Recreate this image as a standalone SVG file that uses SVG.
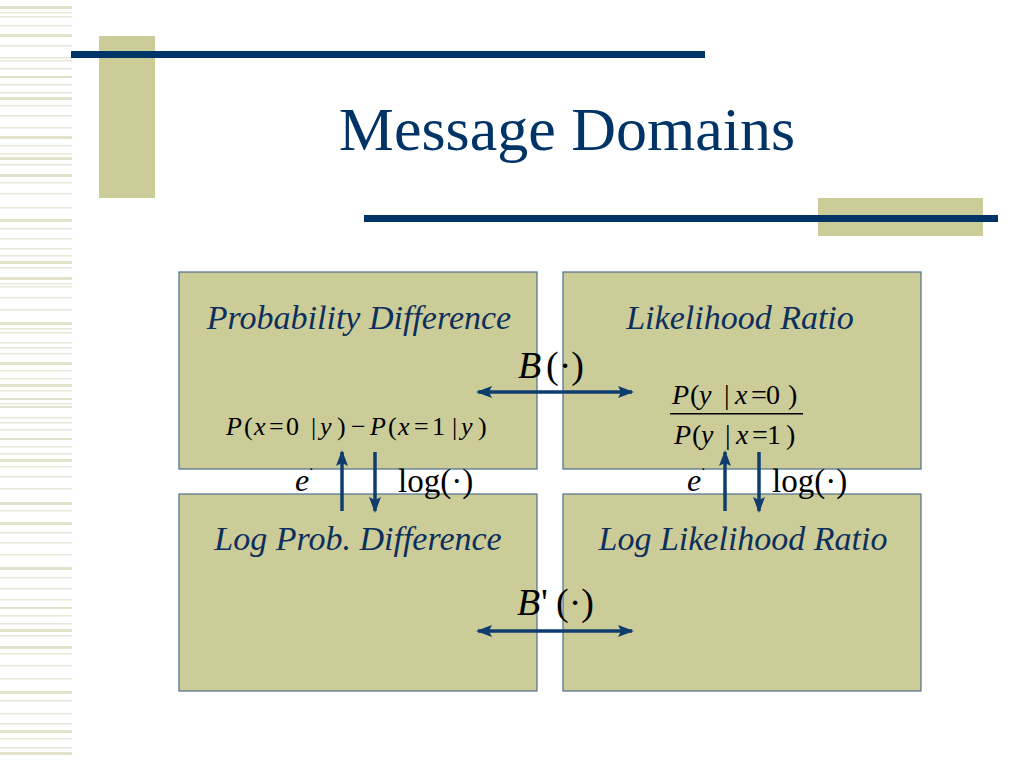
<svg xmlns="http://www.w3.org/2000/svg" width="1024" height="768" viewBox="0 0 1024 768">
<defs>
<style>
.bg{fill:#ffffff}
.st{fill:#e3e3cb}
.stt{fill:#e8e8d8}
.khaki{fill:#cccc99}
.navy{fill:#003366}
.box{fill:#cccc99;stroke:#4f6f8f;stroke-width:1.2}
.lbl{font-family:"Liberation Serif","Times New Roman",serif;font-style:italic;font-size:34px;fill:#0d2f5c;text-anchor:middle}
.title{font-family:"Liberation Serif","Times New Roman",serif;font-size:62px;fill:#003366;text-anchor:middle}
.m{font-family:"Liberation Serif","Times New Roman",serif;fill:#000000}
.i{font-style:italic}
.conn{stroke:#0f3d6e;stroke-width:3.5;fill:none}
</style>
<marker id="ah" markerUnits="userSpaceOnUse" markerWidth="16" markerHeight="12" refX="14" refY="6" orient="auto-start-reverse">
<path d="M0,0 L16,6 L0,12 L3,6 Z" fill="#0f3d6e"/>
</marker>
</defs>
<rect class="bg" x="0" y="0" width="1024" height="768"/>
<g id="stripes">
<rect class="st" x="0" y="6" width="72" height="3"/>
<rect class="stt" x="0" y="12" width="72" height="1.5"/>
<rect class="stt" x="0" y="16" width="72" height="1.5"/>
<rect class="stt" x="0" y="25" width="72" height="1.5"/>
<rect class="st" x="0" y="34" width="72" height="3"/>
<rect class="stt" x="0" y="45" width="72" height="1.5"/>
<rect class="stt" x="0" y="57" width="72" height="1.5"/>
<rect class="stt" x="0" y="60" width="72" height="1.5"/>
<rect class="stt" x="0" y="68" width="72" height="1.5"/>
<rect class="st" x="0" y="76" width="72" height="2"/>
<rect class="stt" x="0" y="84" width="72" height="1.5"/>
<rect class="stt" x="0" y="92" width="72" height="1.5"/>
<rect class="st" x="0" y="97" width="72" height="3"/>
<rect class="stt" x="0" y="105" width="72" height="1.5"/>
<rect class="stt" x="0" y="115" width="72" height="1.5"/>
<rect class="stt" x="0" y="127" width="72" height="1.5"/>
<rect class="st" x="0" y="136" width="72" height="3"/>
<rect class="stt" x="0" y="145" width="72" height="1.5"/>
<rect class="stt" x="0" y="153" width="72" height="1.5"/>
<rect class="st" x="0" y="157" width="72" height="3"/>
<rect class="stt" x="0" y="164" width="72" height="1.5"/>
<rect class="st" x="0" y="174" width="72" height="3"/>
<rect class="stt" x="0" y="182" width="72" height="1.5"/>
<rect class="stt" x="0" y="193" width="72" height="1.5"/>
<rect class="stt" x="0" y="207" width="72" height="1.5"/>
<rect class="st" x="0" y="219" width="72" height="3"/>
<rect class="stt" x="0" y="228" width="72" height="1.5"/>
<rect class="stt" x="0" y="238" width="72" height="1.5"/>
<rect class="stt" x="0" y="248" width="72" height="1.5"/>
<rect class="stt" x="0" y="255" width="72" height="1.5"/>
<rect class="st" x="0" y="261" width="72" height="3"/>
<rect class="stt" x="0" y="267" width="72" height="1.5"/>
<rect class="st" x="0" y="277" width="72" height="3"/>
<rect class="stt" x="0" y="283" width="72" height="1.5"/>
<rect class="stt" x="0" y="286" width="72" height="1.5"/>
<rect class="stt" x="0" y="297" width="72" height="1.5"/>
<rect class="stt" x="0" y="309" width="72" height="1.5"/>
<rect class="st" x="0" y="322" width="72" height="3"/>
<rect class="stt" x="0" y="328" width="72" height="1.5"/>
<rect class="stt" x="0" y="332" width="72" height="1.5"/>
<rect class="stt" x="0" y="342" width="72" height="1.5"/>
<rect class="stt" x="0" y="347" width="72" height="1.5"/>
<rect class="stt" x="0" y="353" width="72" height="1.5"/>
<rect class="st" x="0" y="362" width="72" height="3"/>
<rect class="stt" x="0" y="370" width="72" height="1.5"/>
<rect class="stt" x="0" y="378" width="72" height="1.5"/>
<rect class="st" x="0" y="384" width="72" height="3"/>
<rect class="stt" x="0" y="390" width="72" height="1.5"/>
<rect class="st" x="0" y="398" width="72" height="2"/>
<rect class="stt" x="0" y="403" width="72" height="1.5"/>
<rect class="st" x="0" y="406" width="72" height="2"/>
<rect class="stt" x="0" y="417" width="72" height="1.5"/>
<rect class="stt" x="0" y="422" width="72" height="1.5"/>
<rect class="stt" x="0" y="429" width="72" height="1.5"/>
<rect class="st" x="0" y="438" width="72" height="2"/>
<rect class="stt" x="0" y="446" width="72" height="1.5"/>
<rect class="stt" x="0" y="453" width="72" height="1.5"/>
<rect class="st" x="0" y="459" width="72" height="3"/>
<rect class="stt" x="0" y="466" width="72" height="1.5"/>
<rect class="stt" x="0" y="476" width="72" height="1.5"/>
<rect class="stt" x="0" y="488" width="72" height="1.5"/>
<rect class="st" x="0" y="502" width="72" height="3"/>
<rect class="stt" x="0" y="510" width="72" height="1.5"/>
<rect class="st" x="0" y="522" width="72" height="3"/>
<rect class="stt" x="0" y="532" width="72" height="1.5"/>
<rect class="stt" x="0" y="542" width="72" height="1.5"/>
<rect class="stt" x="0" y="554" width="72" height="1.5"/>
<rect class="st" x="0" y="567" width="72" height="3"/>
<rect class="stt" x="0" y="577" width="72" height="1.5"/>
<rect class="stt" x="0" y="588" width="72" height="1.5"/>
<rect class="stt" x="0" y="599" width="72" height="1.5"/>
<rect class="st" x="0" y="607" width="72" height="2"/>
<rect class="stt" x="0" y="615" width="72" height="1.5"/>
<rect class="stt" x="0" y="623" width="72" height="1.5"/>
<rect class="st" x="0" y="629" width="72" height="3"/>
<rect class="stt" x="0" y="635" width="72" height="1.5"/>
<rect class="st" x="0" y="646" width="72" height="3"/>
<rect class="stt" x="0" y="653" width="72" height="1.5"/>
<rect class="stt" x="0" y="665" width="72" height="1.5"/>
<rect class="stt" x="0" y="678" width="72" height="1.5"/>
<rect class="st" x="0" y="691" width="72" height="3"/>
<rect class="stt" x="0" y="700" width="72" height="1.5"/>
<rect class="stt" x="0" y="713" width="72" height="1.5"/>
<rect class="stt" x="0" y="723" width="72" height="1.5"/>
<rect class="st" x="0" y="730" width="72" height="3"/>
<rect class="stt" x="0" y="738" width="72" height="1.5"/>
<rect class="stt" x="0" y="747" width="72" height="1.5"/>
<rect class="st" x="0" y="752" width="72" height="3"/>
</g>
<g id="decor">
<rect class="khaki" x="99" y="36" width="56" height="162"/>
<rect class="navy" x="71" y="51" width="634" height="7"/>
<rect class="khaki" x="818" y="198" width="165" height="38"/>
<rect class="navy" x="364" y="215" width="634" height="7"/>
</g>
<text id="title" class="title" x="567" y="150">Message Domains</text>
<g id="node-prob-diff">
<rect class="box" x="179" y="272" width="358" height="197"/>
<text class="lbl" x="359" y="329">Probability Difference</text>
<text class="m" font-size="26" y="435"><tspan class="i" x="226">P</tspan><tspan x="244">(</tspan><tspan class="i" x="254">x</tspan><tspan x="269">=</tspan><tspan x="286">0</tspan><tspan x="311">|</tspan><tspan class="i" x="320">y</tspan><tspan x="337">)</tspan><tspan x="351">−</tspan><tspan class="i" x="370">P</tspan><tspan x="388">(</tspan><tspan class="i" x="398">x</tspan><tspan x="414">=</tspan><tspan x="432">1</tspan><tspan x="452">|</tspan><tspan class="i" x="461">y</tspan><tspan x="478">)</tspan></text>
</g>
<g id="node-likelihood">
<rect class="box" x="563" y="272" width="358" height="197"/>
<text class="lbl" x="740" y="329">Likelihood Ratio</text>
<text class="m" font-size="28" y="404"><tspan class="i" x="672">P</tspan><tspan x="690">(</tspan><tspan class="i" x="699">y</tspan><tspan x="724">|</tspan><tspan class="i" x="735">x</tspan><tspan x="751">=</tspan><tspan x="766">0</tspan><tspan x="788">)</tspan></text>
<rect x="670" y="413" width="133" height="1.5" fill="#000000"/>
<text class="m" font-size="28" y="444"><tspan class="i" x="674">P</tspan><tspan x="692">(</tspan><tspan class="i" x="701">y</tspan><tspan x="725">|</tspan><tspan class="i" x="736">x</tspan><tspan x="752">=</tspan><tspan x="767">1</tspan><tspan x="786">)</tspan></text>
</g>
<g id="node-log-prob-diff">
<rect class="box" x="179" y="494" width="358" height="197"/>
<text class="lbl" x="358" y="550">Log Prob. Difference</text>
</g>
<g id="node-llr">
<rect class="box" x="563" y="494" width="358" height="197"/>
<text class="lbl" x="743" y="550">Log Likelihood Ratio</text>
</g>
<g id="connectors">
<line class="conn" x1="478" y1="392" x2="632" y2="392" marker-start="url(#ah)" marker-end="url(#ah)"/>
<line class="conn" x1="478" y1="631" x2="632" y2="631" marker-start="url(#ah)" marker-end="url(#ah)"/>
<line class="conn" x1="342" y1="511" x2="342" y2="452" marker-end="url(#ah)"/>
<line class="conn" x1="375" y1="452" x2="375" y2="511" marker-end="url(#ah)"/>
<line class="conn" x1="725" y1="511" x2="725" y2="452" marker-end="url(#ah)"/>
<line class="conn" x1="759" y1="452" x2="759" y2="511" marker-end="url(#ah)"/>
</g>
<g id="labels">
<text class="m" font-size="38" y="378"><tspan class="i" x="518">B</tspan><tspan x="546">(·)</tspan></text>
<text class="m" font-size="38" y="615"><tspan class="i" x="517">B</tspan><tspan x="541">'</tspan><tspan x="556">(·)</tspan></text>
<text class="m i" font-size="32" x="295" y="491">e</text>
<text class="m" font-size="14" x="309" y="474">·</text>
<text class="m" font-size="33" x="398" y="492">log(·)</text>
<text class="m i" font-size="32" x="687" y="491">e</text>
<text class="m" font-size="14" x="701" y="474">·</text>
<text class="m" font-size="33" x="772" y="492">log(·)</text>
</g>
</svg>
